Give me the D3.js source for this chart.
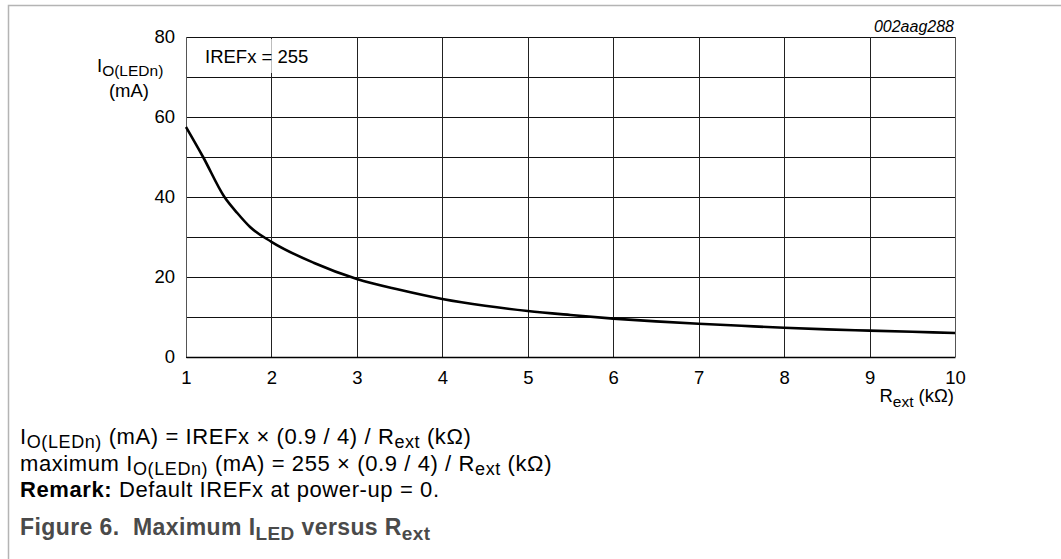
<!DOCTYPE html>
<html>
<head>
<meta charset="utf-8">
<script src="https://cdnjs.cloudflare.com/ajax/libs/d3/7.8.5/d3.min.js"></script>
<style>
body { margin: 0; background: #fff; }
svg text { font-family: "Liberation Sans", Arial, sans-serif; }
</style>
</head>
<body>
<div id="chart"></div>
<script>
// values
var rext = [1, 1.2, 1.45, 1.6, 1.75, 2, 2.5, 3, 3.5, 4, 4.5, 5, 5.5, 6, 6.5, 7, 7.5, 8, 8.5, 9, 9.5, 10]
var iled = [57.5, 50, 40, 36, 32.5, 28.8, 23.5, 19.5, 16.8, 14.5, 12.8, 11.5, 10.5, 9.6, 8.9, 8.3, 7.8, 7.3, 6.9, 6.6, 6.3, 6.0]
var xTicks = [1, 2, 3, 4, 5, 6, 7, 8, 9, 10]
var yTicks = [0, 20, 40, 60, 80]
var yGrid = [0, 10, 20, 30, 40, 50, 60, 70, 80]

var width = 1061, height = 559
var margin = {top: 37, left: 186, right: 106, bottom: 202}
var tickFont = 18.5, subFont = 15.5

var svg = d3.select("#chart").append("svg")
  .attr("width", width)
  .attr("height", height)

// page frame
svg.append("path")
  .attr("d", "M8.5," + height + "V5.5H" + width)
  .attr("fill", "none")
  .attr("stroke", "#b4b4b4")
  .attr("stroke-width", 1.5)

var x = d3.scaleLinear().domain([1, 10]).range([margin.left, width - margin.right])
var y = d3.scaleLinear().domain([0, 80]).range([height - margin.bottom, margin.top])

// grid
svg.append("g")
  .selectAll("line.h")
  .data(yGrid)
  .enter().append("line")
    .attr("x1", x(1)).attr("x2", x(10))
    .attr("y1", function(d) { return Math.round(y(d)) + 0.5 })
    .attr("y2", function(d) { return Math.round(y(d)) + 0.5 })
    .attr("stroke", "#111")

svg.append("g")
  .selectAll("line.v")
  .data(xTicks)
  .enter().append("line")
    .attr("x1", function(d) { return Math.round(x(d)) + 0.5 })
    .attr("x2", function(d) { return Math.round(x(d)) + 0.5 })
    .attr("y1", y(0)).attr("y2", y(80))
    .attr("stroke", function(d) { return (d == 1 || d == 10) ? "#555" : "#222" })

// label box
svg.append("rect")
  .attr("x", x(1) + 1).attr("y", y(80) + 2)
  .attr("width", 140).attr("height", 34)
  .attr("fill", "#fff").attr("opacity", 0.7)
svg.append("text")
  .attr("x", 205).attr("y", 63)
  .attr("font-size", tickFont)
  .text("IREFx = 255")

// axes
var xAxis = svg.append("g")
  .attr("transform", "translate(0," + y(0) + ")")
  .call(d3.axisBottom(x).tickValues(xTicks).tickSize(0).tickPadding(14))
xAxis.select(".domain").attr("stroke", "#000").attr("stroke-width", 1.5)
xAxis.selectAll("text").attr("font-size", tickFont).attr("fill", "#000").style("font-family", "Liberation Sans, Arial, sans-serif")

var yAxis = svg.append("g")
  .attr("transform", "translate(" + (x(1) - 11) + ",0)")
  .call(d3.axisLeft(y).tickValues(yTicks).tickSize(0).tickPadding(0))
yAxis.select(".domain").remove()
yAxis.selectAll("text").attr("font-size", tickFont).attr("fill", "#000").style("font-family", "Liberation Sans, Arial, sans-serif")

// curve
var line = d3.line()
  .x(function(d, i) { return x(rext[i]) })
  .y(function(d) { return y(d) })
  .curve(d3.curveMonotoneX)

svg.append("path")
  .datum(iled)
  .attr("d", line)
  .attr("fill", "none")
  .attr("stroke", "#000")
  .attr("stroke-width", 2.6)

// axis titles
var yt = svg.append("text").attr("x", 97).attr("y", 72).attr("font-size", tickFont)
yt.append("tspan").text("I")
yt.append("tspan").attr("font-size", subFont).attr("dy", 4).text("O(LEDn)")
svg.append("text").attr("x", 129).attr("y", 97).attr("font-size", tickFont)
  .attr("text-anchor", "middle").text("(mA)")

var xt = svg.append("text").attr("x", 954).attr("y", 402).attr("font-size", tickFont)
  .attr("text-anchor", "end")
xt.append("tspan").text("R")
xt.append("tspan").attr("font-size", subFont).attr("dy", 5).text("ext")
xt.append("tspan").attr("dy", -5).text(" (k\u03a9)")

svg.append("text").attr("x", 954).attr("y", 32).attr("font-size", 16)
  .attr("font-style", "italic").attr("text-anchor", "end").text("002aag288")

// notes below
var noteFont = 22, noteSub = 18
function subPart(t, s) {
  t.append("tspan").attr("font-size", noteSub).attr("dy", 4).text(s)
}
function back(t, s) {
  t.append("tspan").attr("dy", -4).text(s)
}
var n1 = svg.append("text").attr("x", 20).attr("y", 444).attr("font-size", noteFont)
  .attr("letter-spacing", 0.6)
n1.append("tspan").text("I")
subPart(n1, "O(LEDn)")
back(n1, " (mA) = IREFx \u00d7 (0.9 / 4) / R")
subPart(n1, "ext")
back(n1, " (k\u03a9)")

var n2 = svg.append("text").attr("x", 20).attr("y", 471).attr("font-size", noteFont)
  .attr("letter-spacing", 0.6)
n2.append("tspan").text("maximum I")
subPart(n2, "O(LEDn)")
back(n2, " (mA) = 255 \u00d7 (0.9 / 4) / R")
subPart(n2, "ext")
back(n2, " (k\u03a9)")

var n3 = svg.append("text").attr("x", 20).attr("y", 497).attr("font-size", noteFont)
  .attr("letter-spacing", 0.6)
n3.append("tspan").attr("font-weight", "bold").text("Remark:")
n3.append("tspan").text(" Default IREFx at power-up = 0.")

var cap = svg.append("text").attr("x", 20).attr("y", 535).attr("font-size", 23)
  .attr("letter-spacing", 0.4)
  .attr("font-weight", "bold").attr("fill", "#4a4a4a")
cap.append("tspan").text("Figure 6.\u00a0 Maximum I")
cap.append("tspan").attr("font-size", 19).attr("dy", 5).text("LED")
cap.append("tspan").attr("dy", -5).text(" versus R")
cap.append("tspan").attr("font-size", 19).attr("dy", 5).text("ext")
</script>
</body>
</html>
